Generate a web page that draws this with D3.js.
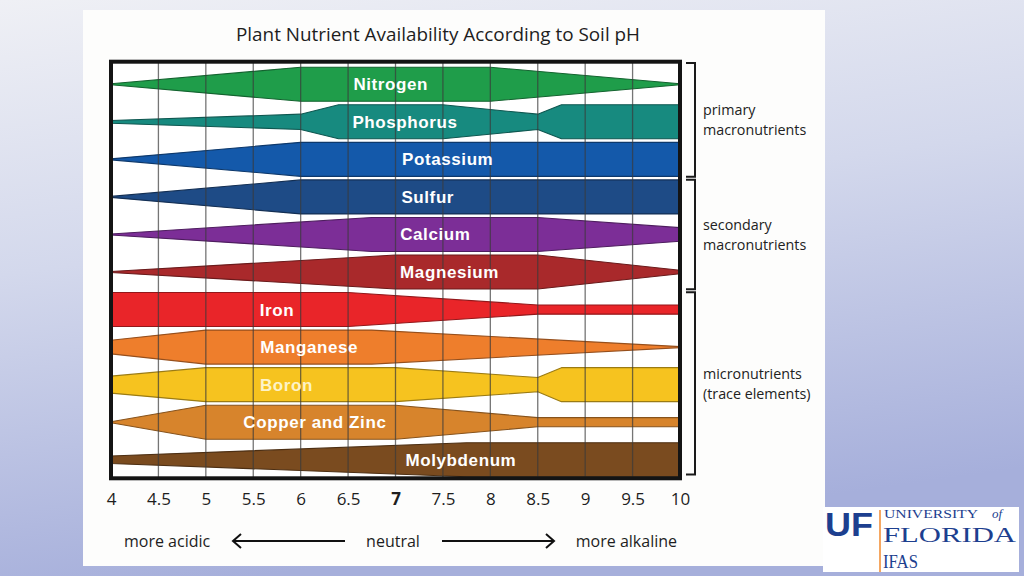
<!DOCTYPE html>
<html>
<head>
<meta charset="utf-8">
<script src="https://cdn.jsdelivr.net/npm/d3@7"></script>
<style>
  html, body { margin: 0; padding: 0; width: 1024px; height: 576px; overflow: hidden; }
  svg { display: block; }
</style>
</head>
<body>
<svg id="chart" width="1024" height="576"></svg>
<script>
// ---------- DATA ----------
const title = "Plant Nutrient Availability According to Soil pH";
const nutrients = ["Nitrogen", "Phosphorus", "Potassium", "Sulfur", "Calcium", "Magnesium",
  "Iron", "Manganese", "Boron", "Copper and Zinc", "Molybdenum"];
// availability profiles: [pH, relative availability 0..1]
const nitrogen   = [[4, 0.03], [6, 1], [8, 1], [10, 0.03]];
const phosphorus = [[4, 0.08], [6, 0.45], [6.4, 1], [7.5, 1], [8.5, 0.45], [8.75, 1], [10, 1]];
const potassium  = [[4, 0.03], [6, 1], [10, 1]];
const sulfur     = [[4, 0.03], [6, 1], [10, 1]];
const calcium    = [[4, 0.03], [6.75, 1], [8.5, 1], [10, 0.4]];
const magnesium  = [[4, 0.03], [7, 1], [8.5, 1], [10, 0.1]];
const iron       = [[4, 1], [6.5, 1], [8.5, 0.27], [10, 0.27]];
const manganese  = [[4, 0.4], [5, 1], [6.75, 1], [10, 0.03]];
const boron      = [[4, 0.5], [5, 1], [7, 1], [8.5, 0.42], [8.75, 1], [10, 1]];
const copperZinc = [[4, 0.03], [5, 1], [7, 1], [8.5, 0.27], [10, 0.27]];
const molybdenum = [[4, 0.22], [7.75, 1], [10, 1]];
const profiles = [nitrogen, phosphorus, potassium, sulfur, calcium, magnesium,
  iron, manganese, boron, copperZinc, molybdenum];
const phTicks = [4, 4.5, 5, 5.5, 6, 6.5, 7, 7.5, 8, 8.5, 9, 9.5, 10];
const tickLabels = ["4", "4.5", "5", "5.5", "6", "6.5", "7", "7.5", "8", "8.5", "9", "9.5", "10"];
const groups = [
  { lines: ["primary", "macronutrients"], from: "Nitrogen", to: "Potassium" },
  { lines: ["secondary", "macronutrients"], from: "Sulfur", to: "Magnesium" },
  { lines: ["micronutrients", "(trace elements)"], from: "Iron", to: "Molybdenum" }
];
const scaleWords = ["more acidic", "neutral", "more alkaline"];

// ---------- STYLE / LAYOUT ----------
const colors = ["#1f9d4a", "#178a7f", "#1459aa", "#1e4b86", "#7c2e97", "#a9292b",
  "#e92529", "#ee7e2c", "#f6c31f", "#d7842c", "#7a4b1f"];
const labelPH = [6.95, 7.1, 7.55, 7.34, 7.42, 7.57, 5.75, 6.09, 5.85, 6.15, 7.69];

const svg = d3.select("#chart");
const W = 1024, H = 576;

// background
const defs = svg.append("defs");
const bg = defs.append("linearGradient").attr("id", "bg")
  .attr("x1", "0").attr("y1", "0").attr("x2", "0.25").attr("y2", "1");
bg.append("stop").attr("offset", "0").attr("stop-color", "#eff0f5");
bg.append("stop").attr("offset", "0.45").attr("stop-color", "#d3d8ec");
bg.append("stop").attr("offset", "1").attr("stop-color", "#a6afdb");
svg.append("rect").attr("width", W).attr("height", H).attr("fill", "url(#bg)");
svg.append("rect").attr("x", 83).attr("y", 10).attr("width", 742).attr("height", 556).attr("fill", "#fdfdfc");

const x = d3.scaleLinear().domain([4, 10]).range([111, 680]);
const y = d3.scaleBand().domain(nutrients).range([65.5, 478.5]);
const hw = d3.scaleLinear().domain([0, 1]).range([0, 17]);
const frameTop = 61.7, frameBottom = 478.3;

// title
svg.append("text").attr("x", 438).attr("y", 34)
  .attr("text-anchor", "middle").attr("dominant-baseline", "central")
  .attr("font-family", "'Open Sans', sans-serif").attr("font-size", 17.5).attr("fill", "#1e1e1e")
  .attr("textLength", 404).attr("lengthAdjust", "spacingAndGlyphs")
  .text(title);

// plot background
svg.append("rect").attr("x", x(4)).attr("y", frameTop).attr("width", x(10) - x(4))
  .attr("height", frameBottom - frameTop).attr("fill", "#ffffff");

// bands
const bands = svg.append("g");
nutrients.forEach((n, i) => {
  const cy = y(n) + y.bandwidth() / 2;
  const area = d3.area()
    .x(d => x(d[0]))
    .y0(d => cy + hw(d[1]))
    .y1(d => cy - hw(d[1]));
  bands.append("path").datum(profiles[i])
    .attr("d", area)
    .attr("fill", colors[i])
    .attr("stroke", d3.color(colors[i]).darker(1.3))
    .attr("stroke-width", 1.1)
    .attr("stroke-linejoin", "round");
});

// vertical grid lines
svg.append("g").selectAll("line").data(phTicks.slice(1, -1)).join("line")
  .attr("x1", d => x(d)).attr("x2", d => x(d))
  .attr("y1", frameTop).attr("y2", frameBottom)
  .attr("stroke", "#3a3a3a").attr("stroke-opacity", 0.7).attr("stroke-width", 1.3);

// band labels
svg.append("g").selectAll("text").data(nutrients).join("text")
  .attr("x", (d, i) => x(labelPH[i]))
  .attr("y", d => y(d) + y.bandwidth() / 2 + 0.5)
  .attr("text-anchor", "middle").attr("dominant-baseline", "central")
  .attr("font-family", "'Liberation Sans', Arial, sans-serif").attr("font-weight", "bold")
  .attr("font-size", 17).attr("letter-spacing", 0.6)
  .attr("fill", (d, i) => i === 8 ? "#fdf3c8" : "#ffffff")
  .text(d => d);

// frame
svg.append("rect").attr("x", x(4)).attr("y", frameTop).attr("width", x(10) - x(4))
  .attr("height", frameBottom - frameTop).attr("fill", "none")
  .attr("stroke", "#141414").attr("stroke-width", 4);

// x axis labels
const axis = d3.axisBottom(x).tickValues(phTicks).tickSize(0).tickPadding(0)
  .tickFormat((d, i) => tickLabels[i]);
const gAxis = svg.append("g").attr("transform", "translate(0,493)").call(axis);
gAxis.select(".domain").remove();
gAxis.selectAll("text")
  .attr("font-family", "'Open Sans', sans-serif").attr("font-size", 17)
  .attr("fill", "#1e1e1e")
  .attr("font-weight", d => d === 7 ? "bold" : "normal");

// group brackets
const gb = svg.append("g");
groups.forEach((g, i) => {
  const y0 = y(g.from) - (i === 0 ? 2.5 : -1.5);
  const y1 = y(g.to) + y.bandwidth() - (i === 2 ? 4 : 1.5);
  gb.append("path")
    .attr("d", `M686,${y0}H695V${y1}H686`)
    .attr("fill", "none").attr("stroke", "#1a1a1a").attr("stroke-width", 2);
  const mid = (y0 + y1) / 2;
  g.lines.forEach((t, j) => {
    gb.append("text").attr("x", 703).attr("y", mid + (j - 0.5) * 20)
      .attr("dominant-baseline", "central")
      .attr("font-family", "'Open Sans', sans-serif").attr("font-size", 14.3)
      .attr("fill", "#222").text(t);
  });
});

// acidity scale
const sy = 541;
const sc = svg.append("g").attr("font-family", "'Open Sans', sans-serif").attr("font-size", 16).attr("fill", "#1e1e1e");
sc.append("text").attr("x", 124).attr("y", sy).attr("dominant-baseline", "central").text(scaleWords[0]);
sc.append("text").attr("x", 393).attr("y", sy).attr("text-anchor", "middle").attr("dominant-baseline", "central").text(scaleWords[1]);
sc.append("text").attr("x", 677).attr("y", sy).attr("text-anchor", "end").attr("dominant-baseline", "central").text(scaleWords[2]);
const ar = svg.append("g").attr("stroke", "#111").attr("stroke-width", 2).attr("fill", "none");
ar.append("line").attr("x1", 233).attr("x2", 345).attr("y1", sy).attr("y2", sy);
ar.append("polyline").attr("points", `241,534 233,${sy} 241,548`);
ar.append("line").attr("x1", 442).attr("x2", 554).attr("y1", sy).attr("y2", sy);
ar.append("polyline").attr("points", `546,534 554,${sy} 546,548`);

// UF logo
const lg = svg.append("g").attr("fill", "#1d3f8f");
lg.append("rect").attr("x", 823).attr("y", 507).attr("width", 196).attr("height", 65).attr("fill", "#ffffff");
lg.append("text").attr("x", 825).attr("y", 536)
  .attr("font-family", "'Liberation Sans', Arial, sans-serif").attr("font-weight", "900")
  .attr("font-size", 34).attr("textLength", 48).attr("lengthAdjust", "spacingAndGlyphs").text("UF");
lg.append("line").attr("x1", 880).attr("x2", 880).attr("y1", 510).attr("y2", 572)
  .attr("stroke", "#f28a2e").attr("stroke-width", 1.5);
lg.append("text").attr("x", 884).attr("y", 518)
  .attr("font-family", "'Liberation Serif', serif").attr("font-size", 12)
  .attr("textLength", 94).attr("lengthAdjust", "spacingAndGlyphs").text("UNIVERSITY");
lg.append("text").attr("x", 992).attr("y", 518)
  .attr("font-family", "'Liberation Serif', serif").attr("font-style", "italic").attr("font-size", 13)
  .text("of");
lg.append("text").attr("x", 883).attr("y", 542)
  .attr("font-family", "'Liberation Serif', serif").attr("font-size", 22)
  .attr("textLength", 133).attr("lengthAdjust", "spacingAndGlyphs").text("FLORIDA");
lg.append("text").attr("x", 883).attr("y", 568)
  .attr("font-family", "'Liberation Serif', serif").attr("font-size", 19)
  .attr("textLength", 35).attr("lengthAdjust", "spacingAndGlyphs").text("IFAS");
</script>
</body>
</html>
